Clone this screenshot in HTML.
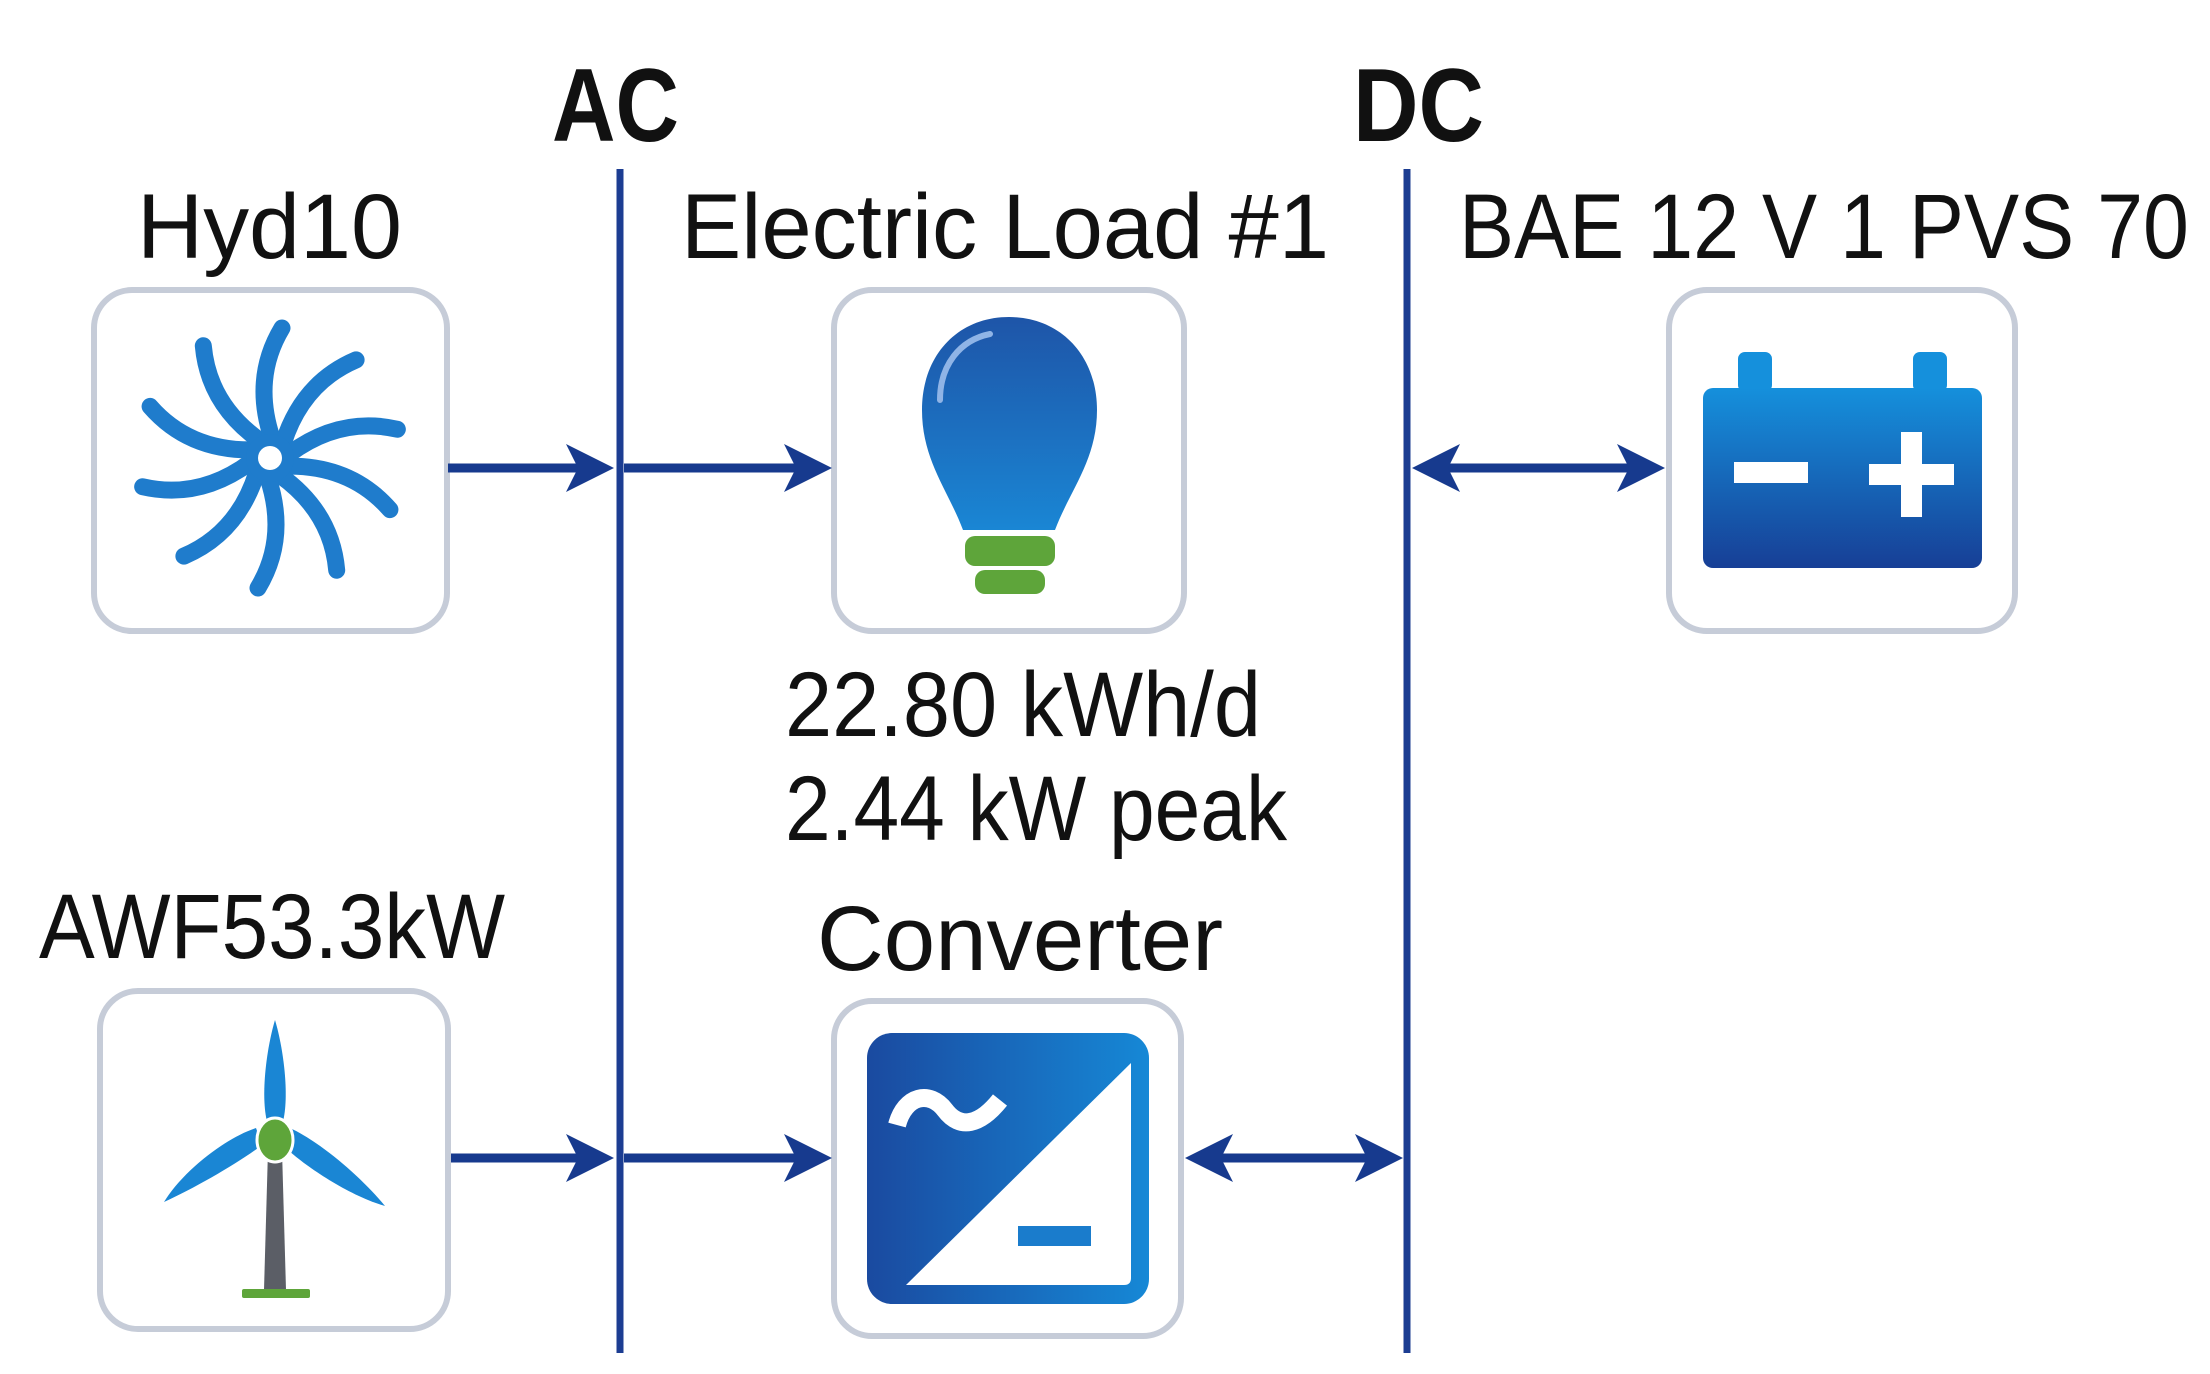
<!DOCTYPE html>
<html><head><meta charset="utf-8"><style>html,body{margin:0;padding:0;background:#fff}svg{display:block}</style></head>
<body>
<svg width="2210" height="1374" viewBox="0 0 2210 1374" xmlns="http://www.w3.org/2000/svg">
<defs>
<linearGradient id="bulb" x1="0" y1="0" x2="0" y2="1"><stop offset="0" stop-color="#1e55a8"/><stop offset="1" stop-color="#1a86d4"/></linearGradient>
<linearGradient id="bat" x1="0" y1="0" x2="0" y2="1"><stop offset="0" stop-color="#1590dc"/><stop offset="1" stop-color="#173f96"/></linearGradient>
<linearGradient id="conv" x1="0" y1="0" x2="1" y2="0"><stop offset="0" stop-color="#1a4aa0"/><stop offset="1" stop-color="#1688d6"/></linearGradient>
<path id="hd" d="M0,0 L-48,-24 L-36,0 L-48,24 Z" fill="#173a8e"/>
</defs>
<g font-family="Liberation Sans, sans-serif" fill="#111">
<text x="552" y="141" font-size="104" font-weight="bold" textLength="127" lengthAdjust="spacingAndGlyphs">AC</text>
<text x="1353" y="141" font-size="104" font-weight="bold" textLength="131" lengthAdjust="spacingAndGlyphs">DC</text>
<text x="137" y="258" font-size="92" textLength="265" lengthAdjust="spacingAndGlyphs">Hyd10</text>
<text x="681" y="258" font-size="92" textLength="648" lengthAdjust="spacingAndGlyphs">Electric Load #1</text>
<text x="1459" y="258" font-size="92" textLength="730" lengthAdjust="spacingAndGlyphs">BAE 12 V 1 PVS 70</text>
<text x="785" y="736" font-size="92" textLength="476" lengthAdjust="spacingAndGlyphs">22.80 kWh/d</text>
<text x="785" y="840" font-size="92" textLength="502" lengthAdjust="spacingAndGlyphs">2.44 kW peak</text>
<text x="39" y="958" font-size="92" textLength="466" lengthAdjust="spacingAndGlyphs">AWF53.3kW</text>
<text x="817" y="970" font-size="92" textLength="406" lengthAdjust="spacingAndGlyphs">Converter</text>
</g>
<line x1="620" y1="169" x2="620" y2="1353" stroke="#1c3d92" stroke-width="7"/>
<line x1="1407" y1="169" x2="1407" y2="1353" stroke="#1c3d92" stroke-width="7"/>
<g fill="#fff" stroke="#c6ccd8" stroke-width="6">
<rect x="94" y="290" width="353" height="341" rx="38"/>
<rect x="834" y="290" width="350" height="341" rx="38"/>
<rect x="1669" y="290" width="346" height="341" rx="38"/>
<rect x="100" y="991" width="348" height="338" rx="38"/>
<rect x="834" y="1001" width="347" height="335" rx="38"/>
</g>
<g stroke="#173a8e" stroke-width="9">
<line x1="448" y1="468" x2="590" y2="468"/>
<line x1="624" y1="468" x2="800" y2="468"/>
<line x1="1430" y1="468" x2="1640" y2="468"/>
<line x1="451" y1="1158" x2="590" y2="1158"/>
<line x1="624" y1="1158" x2="800" y2="1158"/>
<line x1="1200" y1="1158" x2="1380" y2="1158"/>
</g>
<use href="#hd" transform="translate(614,468)"/>
<use href="#hd" transform="translate(832,468)"/>
<use href="#hd" transform="translate(1665,468)"/>
<use href="#hd" transform="translate(1412,468) rotate(180)"/>
<use href="#hd" transform="translate(614,1158)"/>
<use href="#hd" transform="translate(832,1158)"/>
<use href="#hd" transform="translate(1403,1158)"/>
<use href="#hd" transform="translate(1185,1158) rotate(180)"/>
<g transform="translate(270,458)" stroke="#1f7ccc" stroke-width="17" fill="none" stroke-linecap="round">
<g id="bl"><path d="M2,-20 Q-18,-80 12,-130"/></g>
<use href="#bl" transform="rotate(36)"/><use href="#bl" transform="rotate(72)"/><use href="#bl" transform="rotate(108)"/><use href="#bl" transform="rotate(144)"/><use href="#bl" transform="rotate(180)"/><use href="#bl" transform="rotate(216)"/><use href="#bl" transform="rotate(252)"/><use href="#bl" transform="rotate(288)"/><use href="#bl" transform="rotate(324)"/>
<circle r="24" fill="#1f7ccc" stroke="none"/>
<circle r="12" fill="#fff" stroke="none"/>
</g>
<path d="M1009,317 C1060,317 1097,355 1097,410 C1097,460 1070,490 1055,530 L963,530 C948,490 922,460 922,410 C922,355 958,317 1009,317 Z" fill="url(#bulb)"/>
<path d="M940,400 C940,365 960,340 990,334" stroke="#8fb4e6" stroke-width="6" fill="none" stroke-linecap="round"/>
<rect x="965" y="536" width="90" height="30" rx="10" fill="#5ea53a"/>
<rect x="975" y="570" width="70" height="24" rx="10" fill="#5ea53a"/>
<rect x="1738" y="352" width="34" height="40" rx="7" fill="#1590dc"/>
<rect x="1913" y="352" width="34" height="40" rx="7" fill="#1590dc"/>
<rect x="1703" y="388" width="279" height="180" rx="10" fill="url(#bat)"/>
<rect x="1734" y="462" width="74" height="21" fill="#fff"/>
<rect x="1869" y="464" width="85" height="21" fill="#fff"/>
<rect x="1901" y="432" width="21" height="85" fill="#fff"/>
<rect x="867" y="1033" width="282" height="271" rx="25" fill="url(#conv)"/>
<path d="M1131,1063 L1131,1278 Q1131,1285 1124,1285 L906,1285 Z" fill="#fff"/>
<path d="M897,1125 C905,1095 930,1090 945,1110 C960,1130 980,1125 1000,1100" stroke="#fff" stroke-width="18" fill="none"/>
<rect x="1018" y="1226" width="73" height="20" fill="#1a7ccc"/>
<path d="M268,1150 L282,1150 L286,1290 L264,1290 Z" fill="#5b5e66"/>
<rect x="242" y="1289" width="68" height="9" rx="2" fill="#5ea53a"/>
<path d="M275,1020 C284,1050 290,1100 282,1125 L268,1125 C260,1100 266,1050 275,1020 Z" fill="#1a86d4"/>
<path d="M262,1145 C240,1162 195,1188 164,1202 C182,1172 225,1138 256,1128 Z" fill="#1a86d4"/>
<path d="M290,1128 C322,1143 362,1178 385,1206 C350,1196 308,1168 288,1150 Z" fill="#1a86d4"/>
<ellipse cx="275" cy="1140" rx="18" ry="22" fill="#5ea53a" stroke="#fff" stroke-width="3"/>
</svg>
</body></html>
